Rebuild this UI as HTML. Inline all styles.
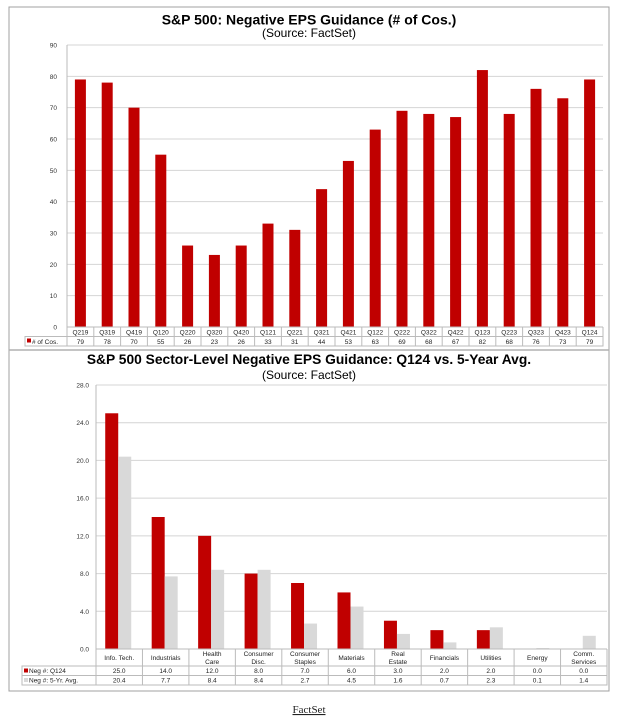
<!DOCTYPE html>
<html><head><meta charset="utf-8"><style>
body{margin:0;background:#fff;width:618px;height:725px;overflow:hidden}
svg{position:absolute;left:0;top:0}
text{font-family:"Liberation Sans",Arial,sans-serif}
</style></head><body>
<svg width="618" height="725" viewBox="0 0 618 725" xmlns="http://www.w3.org/2000/svg">
<rect x="9" y="7" width="600" height="684" fill="#fff" stroke="#a0a0a0" stroke-width="1"/>
<line x1="9" y1="350" x2="609" y2="350" stroke="#b0b0b0" stroke-width="1.5"/>
<text x="309" y="24.5" text-anchor="middle" font-size="14" font-weight="bold">S&amp;P 500: Negative EPS Guidance (# of Cos.)</text>
<text x="309" y="37" text-anchor="middle" font-size="12">(Source: FactSet)</text>
<g id="c1"></g>
<text x="309" y="364" text-anchor="middle" font-size="13.8" font-weight="bold">S&amp;P 500 Sector-Level Negative EPS Guidance: Q124 vs. 5-Year Avg.</text>
<text x="309" y="379" text-anchor="middle" font-size="12">(Source: FactSet)</text>
<g id="c2"></g>
<text x="309" y="713" text-anchor="middle" font-size="11" style="font-family:'Liberation Serif',serif" text-decoration="underline" fill="#222">FactSet</text>
</svg>
<script>
const NS="http://www.w3.org/2000/svg";
function el(p,t,a,txt){const e=document.createElementNS(NS,t);for(const k in a)e.setAttribute(k,a[k]);if(txt!==undefined)e.textContent=txt;p.appendChild(e);return e;}
const g1=document.getElementById('c1');
const q=["Q219","Q319","Q419","Q120","Q220","Q320","Q420","Q121","Q221","Q321","Q421","Q122","Q222","Q322","Q422","Q123","Q223","Q323","Q423","Q124"];
const v=[79,78,70,55,26,23,26,33,31,44,53,63,69,68,67,82,68,76,73,79];
const L=67,R=603,Y0=327,Y90=45,cw=(R-L)/20,py=(Y0-Y90)/90;
for(let i=0;i<=9;i++){const y=Y0-i*10*py;el(g1,'line',{x1:L,x2:R,y1:y,y2:y,stroke:'#d4d4d4','stroke-width':1});el(g1,'text',{x:L-10,y:y+2.5,'font-size':6.5,'text-anchor':'end',fill:'#333'},i*10);}
el(g1,'line',{x1:L,x2:L,y1:Y90,y2:Y0,stroke:'#bbb'});
v.forEach((d,i)=>{const cx=L+cw*(i+.5);el(g1,'rect',{x:cx-5.5,y:Y0-d*py,width:11,height:d*py,fill:'#c00000'});
el(g1,'text',{x:cx,y:334.5,'font-size':6.5,'text-anchor':'middle',fill:'#222'},q[i]);
el(g1,'text',{x:cx,y:344,'font-size':6.5,'text-anchor':'middle',fill:'#222'},d);
el(g1,'line',{x1:L+cw*(i+1),x2:L+cw*(i+1),y1:Y0,y2:346,stroke:'#bbb'});});
el(g1,'rect',{x:25,y:336.5,width:R-25,height:9.5,fill:'none',stroke:'#bbb'});
el(g1,'line',{x1:L,x2:L,y1:Y0,y2:346,stroke:'#bbb'});
el(g1,'line',{x1:L,x2:R,y1:Y0,y2:Y0,stroke:'#bbb'});
el(g1,'rect',{x:27,y:338.5,width:4,height:4,fill:'#c00000'});
el(g1,'text',{x:32,y:344,'font-size':6.5,fill:'#222'},'# of Cos.');
const g2=document.getElementById('c2');
const s=[["Info. Tech."],["Industrials"],["Health","Care"],["Consumer","Disc."],["Consumer","Staples"],["Materials"],["Real","Estate"],["Financials"],["Utilities"],["Energy"],["Comm.","Services"]];
const a=[25,14,12,8,7,6,3,2,2,0,0],b=[20.4,7.7,8.4,8.4,2.7,4.5,1.6,0.7,2.3,0.1,1.4];
const L2=96,R2=607,Z=649,T=385,cw2=(R2-L2)/11,py2=(Z-T)/28;
for(let i=0;i<=7;i++){const y=Z-i*4*py2;el(g2,'line',{x1:L2,x2:R2,y1:y,y2:y,stroke:'#d4d4d4'});el(g2,'text',{x:L2-7,y:y+2.5,'font-size':6.5,'text-anchor':'end',fill:'#333'},(i*4).toFixed(1));}
el(g2,'line',{x1:L2,x2:L2,y1:T,y2:Z,stroke:'#bbb'});
s.forEach((n,i)=>{const x0=L2+cw2*i,cx=x0+cw2/2;
el(g2,'rect',{x:cx-14,y:Z-a[i]*py2,width:13,height:a[i]*py2,fill:'#c00000'});
el(g2,'rect',{x:cx-1,y:Z-b[i]*py2,width:13,height:b[i]*py2,fill:'#d9d9d9'});
if(n.length==1)el(g2,'text',{x:cx,y:660,'font-size':6.5,'text-anchor':'middle',fill:'#222'},n[0]);
else{el(g2,'text',{x:cx,y:656,'font-size':6.5,'text-anchor':'middle',fill:'#222'},n[0]);el(g2,'text',{x:cx,y:664,'font-size':6.5,'text-anchor':'middle',fill:'#222'},n[1]);}
el(g2,'text',{x:cx,y:673,'font-size':6.5,'text-anchor':'middle',fill:'#222'},a[i].toFixed(1));
el(g2,'text',{x:cx,y:682.5,'font-size':6.5,'text-anchor':'middle',fill:'#222'},b[i].toFixed(1));
el(g2,'line',{x1:x0+cw2,x2:x0+cw2,y1:Z,y2:685,stroke:'#bbb'});});
el(g2,'line',{x1:L2,x2:R2,y1:Z,y2:Z,stroke:'#bbb'});
el(g2,'rect',{x:22,y:666,width:R2-22,height:19,fill:'none',stroke:'#bbb'});
el(g2,'line',{x1:22,x2:R2,y1:675.5,y2:675.5,stroke:'#bbb'});
el(g2,'line',{x1:L2,x2:L2,y1:Z,y2:685,stroke:'#bbb'});
el(g2,'rect',{x:24,y:668.5,width:4,height:4,fill:'#c00000'});
el(g2,'text',{x:29,y:673,'font-size':6.5,fill:'#222'},'Neg #: Q124');
el(g2,'rect',{x:24,y:678,width:4,height:4,fill:'#d9d9d9'});
el(g2,'text',{x:29,y:682.5,'font-size':6.5,fill:'#222'},'Neg #: 5-Yr. Avg.');
</script>
</body></html>
